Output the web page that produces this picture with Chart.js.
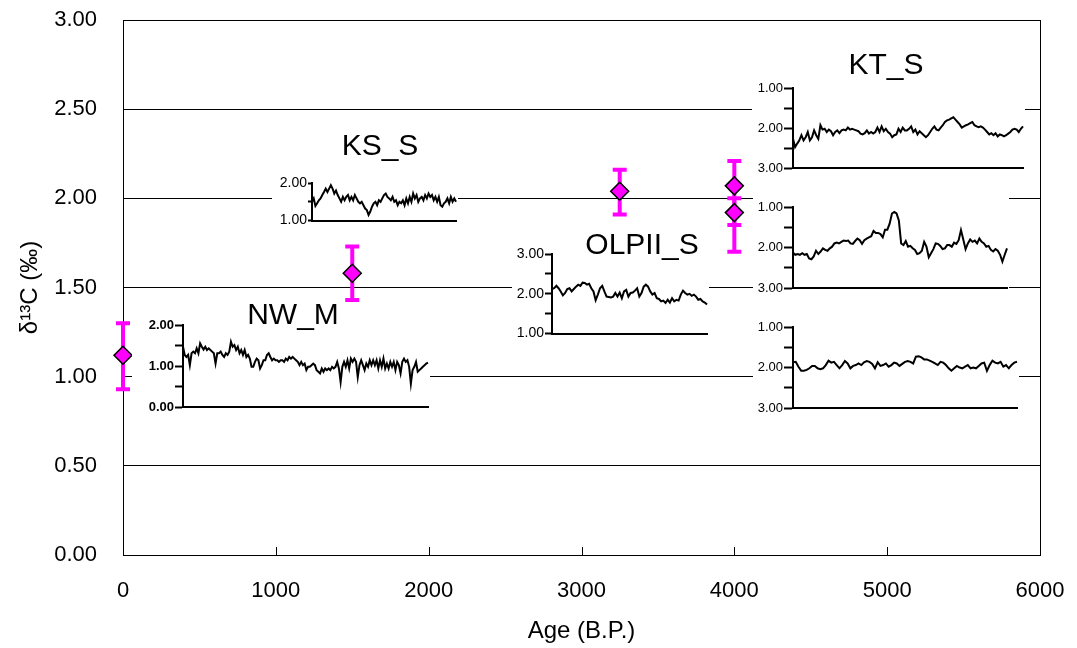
<!DOCTYPE html>
<html>
<head>
<meta charset="utf-8">
<script src="https://cdn.jsdelivr.net/npm/chart.js@4.4.0/dist/chart.umd.min.js"></script>
<style>
  body { margin: 0; background: #fff; }
  #wrap { position: relative; width: 1077px; height: 648px; }
  #wrap canvas { position: absolute; }
  #wrap canvas.inset { background: #fff; }
</style>
</head>
<body>
<div id="wrap">
  <canvas id="mainChart" width="1077" height="648" style="left:0;top:0"></canvas>
</div>
<script>
Chart.defaults.font.family = 'Arial, "Liberation Sans", sans-serif';
Chart.defaults.color = '#000';

// spot values (age, d13C) with error range
const ages = [0, 1500, 3250, 4000, 4000];
const d13C = [1.12, 1.58, 2.04, 2.07, 1.92];
const errLow = [0.93, 1.43, 1.91, 1.85, 1.70];
const errHigh = [1.30, 1.73, 2.16, 2.21, 2.00];

// inset records
const nwM = [1.47,1.27,1.22,1.27,1.02,1.31,1.35,1.31,1.43,1.31,1.55,1.47,1.40,1.47,1.39,1.43,1.39,1.35,1.31,1.06,
  1.31,1.31,1.35,1.27,1.22,1.31,1.27,1.35,1.59,1.47,1.51,1.39,1.47,1.31,1.39,1.27,1.39,1.22,1.27,1.18,
  0.98,0.98,1.10,1.18,1.14,0.94,1.02,1.14,1.14,1.27,1.31,1.22,1.14,1.18,1.14,1.14,1.10,1.14,1.14,1.10,
  1.18,1.14,1.22,1.18,1.22,1.18,1.14,1.10,1.02,1.10,1.02,1.06,0.90,0.98,0.98,1.02,1.06,1.02,0.90,0.86,
  0.82,0.94,0.86,0.94,0.90,0.94,0.90,0.98,0.94,0.98,1.10,0.94,0.61,0.98,1.10,0.98,1.14,0.94,1.18,1.10,
  1.18,1.10,0.73,1.02,1.14,1.02,0.90,1.06,0.98,1.14,1.02,1.14,1.02,1.14,0.94,1.14,0.98,1.18,0.94,1.06,
  0.94,1.10,0.98,1.10,0.90,1.10,1.02,0.82,1.10,1.18,1.10,1.14,0.98,0.57,0.90,0.98,1.10,0.86,0.90,0.94,
  0.98,1.02,1.06,1.08];
const ksS = [1.50,1.59,1.39,1.46,1.54,1.59,1.68,1.76,1.85,1.76,1.85,1.94,1.85,1.72,1.80,1.68,1.59,1.50,1.63,1.54,
  1.63,1.68,1.54,1.63,1.54,1.68,1.59,1.50,1.46,1.50,1.41,1.32,1.28,1.15,1.24,1.37,1.46,1.50,1.41,1.54,
  1.50,1.59,1.68,1.72,1.63,1.59,1.54,1.63,1.50,1.54,1.41,1.50,1.46,1.54,1.41,1.59,1.46,1.63,1.50,1.72,
  1.59,1.68,1.50,1.59,1.63,1.54,1.68,1.59,1.72,1.63,1.68,1.54,1.63,1.50,1.63,1.41,1.37,1.46,1.50,1.59,
  1.46,1.63,1.50,1.59,1.50];
const olpiiS = [2.12,2.14,2.20,2.14,2.06,1.96,2.02,2.12,2.14,2.06,2.12,2.18,2.23,2.20,2.28,2.27,2.23,2.25,2.14,2.06,
  1.84,1.98,2.14,2.20,2.06,1.93,1.92,1.91,1.93,2.02,1.93,2.03,1.89,2.06,2.10,1.93,2.02,2.03,2.08,2.14,
  1.93,2.02,2.18,2.23,2.18,2.06,1.98,2.02,1.89,1.87,1.81,1.83,1.77,1.85,1.78,1.89,1.81,1.85,1.83,1.98,
  2.08,2.02,1.98,2.00,1.95,1.98,1.93,1.85,1.87,1.81,1.78,1.73];
const ktS = [2.27,2.48,2.39,2.31,2.18,2.31,2.23,2.10,2.31,2.23,2.06,2.18,2.27,1.93,2.04,2.02,2.10,2.04,2.08,2.18,
  2.10,2.06,2.13,2.06,2.04,2.06,1.99,2.04,2.02,2.04,2.06,2.08,2.14,2.16,2.13,2.06,2.14,2.10,2.14,2.10,
  1.99,2.10,1.96,2.08,2.02,2.10,2.14,2.23,2.18,2.16,2.02,2.10,1.99,2.06,2.06,2.02,1.96,2.10,2.04,2.16,
  2.08,2.13,2.18,2.23,2.18,2.10,2.02,1.96,2.04,2.06,1.99,1.93,1.85,1.81,1.79,1.76,1.73,1.79,1.85,1.91,
  1.99,1.96,1.93,1.91,1.88,1.85,1.93,1.96,1.98,1.96,1.99,2.04,2.10,2.16,2.13,2.18,2.13,2.21,2.16,2.18,
  2.21,2.18,2.14,2.10,2.04,2.02,2.04,2.10,2.02,1.96];
const ktMid = [2.13,2.18,2.16,2.18,2.14,2.18,2.16,2.27,2.29,2.22,2.08,2.16,2.10,2.02,2.06,2.08,2.02,1.98,1.90,1.88,
  1.90,1.86,1.83,1.84,1.83,1.90,1.91,1.84,1.78,1.82,1.91,1.82,1.78,1.75,1.72,1.59,1.64,1.64,1.67,1.75,
  1.56,1.56,1.41,1.16,1.12,1.16,1.33,1.90,1.94,1.84,1.98,1.96,2.02,2.06,2.16,2.14,2.08,1.86,1.98,2.24,
  2.14,2.04,1.90,1.91,1.96,2.04,2.02,1.94,1.94,1.98,1.88,1.91,1.82,1.57,1.80,2.04,1.90,1.80,1.86,1.83,
  1.90,1.78,1.86,1.90,1.98,1.96,2.06,2.10,2.04,2.08,2.18,2.35,2.18,2.02];
const ktBot = [1.87,1.86,1.98,2.08,2.08,2.06,2.02,1.96,1.96,2.02,2.04,2.02,1.94,1.83,1.88,1.86,1.94,2.02,1.94,1.84,
  1.90,2.02,1.96,1.94,1.90,1.94,1.87,1.84,1.86,1.91,2.02,1.87,1.96,1.94,1.90,1.98,1.94,1.88,1.90,1.96,
  1.91,1.86,1.84,1.86,1.90,1.73,1.72,1.75,1.80,1.80,1.83,1.86,1.90,1.94,1.86,1.88,1.94,2.02,2.08,2.02,
  1.96,2.00,2.02,1.98,1.94,2.02,2.00,2.02,1.96,1.90,1.88,2.08,1.94,1.83,1.88,1.90,1.86,1.98,1.94,2.02,
  1.94,1.88,1.86];

// box around plot + small inward ticks on the age axis
const frame = {
  id: 'frame',
  beforeDatasetsDraw(chart) {
    const {ctx, chartArea: a, scales: {x}} = chart;
    ctx.save();
    ctx.strokeStyle = '#000';
    ctx.lineWidth = 1;
    ctx.strokeRect(a.left + 0.5, a.top + 0.5, a.right - a.left, a.bottom - a.top);
    ctx.beginPath();
    x.ticks.forEach(t => {
      const px = Math.round(x.getPixelForValue(t.value)) + 0.5;
      ctx.moveTo(px, a.bottom);
      ctx.lineTo(px, a.bottom - 8);
    });
    ctx.stroke();
    ctx.restore();
  }
};

const errorBars = {
  id: 'errorBars',
  beforeDatasetsDraw(chart) {
    const ctx = chart.ctx, y = chart.scales.y;
    const meta = chart.getDatasetMeta(0);
    ctx.save();
    ctx.strokeStyle = '#ff00ff';
    ctx.lineWidth = 4;
    meta.data.forEach((pt, i) => {
      const top = y.getPixelForValue(errHigh[i]);
      const bot = y.getPixelForValue(errLow[i]);
      ctx.beginPath();
      ctx.moveTo(pt.x, top); ctx.lineTo(pt.x, bot);
      ctx.moveTo(pt.x - 7, top); ctx.lineTo(pt.x + 7, top);
      ctx.moveTo(pt.x - 7, bot); ctx.lineTo(pt.x + 7, bot);
      ctx.stroke();
    });
    ctx.restore();
  }
};

const hidden = 'rgba(0,0,0,0)';

new Chart(document.getElementById('mainChart'), {
  type: 'scatter',
  data: {
    datasets: [{
      data: ages.map((a, i) => ({x: a, y: d13C[i]})),
      pointStyle: 'rectRot',
      pointRadius: 9,
      pointHoverRadius: 9,
      backgroundColor: '#ff00ff',
      borderColor: '#000',
      borderWidth: 1.5,
      clip: false
    }]
  },
  options: {
    responsive: false,
    animation: false,
    layout: {padding: {top: 20, right: 37, left: 0, bottom: 0}},
    plugins: {legend: {display: false}, tooltip: {enabled: false}},
    scales: {
      x: {
        type: 'linear', min: 0, max: 6000,
        ticks: {stepSize: 1000, padding: 2, font: {size: 22}, maxRotation: 0, callback: v => String(v)},
        // tick marks are hidden, their length only spaces the labels
        grid: {drawOnChartArea: false, drawTicks: true, tickLength: 21, tickColor: hidden},
        border: {color: '#000', width: 1},
        title: {display: true, text: 'Age (B.P.)', font: {size: 24}, padding: {top: 0, bottom: 2}},
        afterFit(s) { s.height = 93; }
      },
      y: {
        min: 0, max: 3,
        ticks: {stepSize: 0.5, padding: 2, font: {size: 22}, callback: v => v.toFixed(2)},
        grid: {color: '#000', lineWidth: 1, drawTicks: true, tickLength: 24, tickColor: hidden},
        border: {color: '#000', width: 1},
        title: {display: true, text: 'δ¹³C (‰)', font: {size: 24}, padding: {top: 16, bottom: 0}},
        afterFit(s) { s.width = 123; }
      }
    }
  },
  plugins: [frame, errorBars]
});

// insets: box = [left, top, width, height] in page px
const insets = [
  {title: 'NW_M', values: nwM, min: 0, max: 2, reverse: false, bold: true, size: 13, tick: 8,
   box: [132, 303, 298, 113], axisW: 51, pad: {top: 22, right: 2, bottom: 9}, titleAt: [161, 13]},
  {title: 'KS_S', values: ksS, min: 1, max: 2, reverse: false, bold: false, size: 14, tick: 4,
   box: [272, 128, 186, 102], axisW: 40, pad: {top: 55, right: 2, bottom: 9}, titleAt: [108, 19]},
  {title: 'OLPII_S', values: olpiiS, min: 1, max: 3, reverse: false, bold: false, size: 14, tick: 7,
   box: [512, 226, 197, 117], axisW: 40, pad: {top: 28, right: 2, bottom: 9}, titleAt: [130, 20]},
  {title: 'KT_S', values: ktS, min: 1, max: 3, reverse: true, bold: false, size: 13, tick: 9,
   box: [752, 44, 273, 133], axisW: 41, pad: {top: 44, right: 2, bottom: 9}, titleAt: [134, 22]},
  {title: '', values: ktMid, min: 1, max: 3, reverse: true, bold: false, size: 13, tick: 9,
   box: [753, 196, 256, 101], axisW: 40, pad: {top: 11, right: 2, bottom: 9}, titleAt: [0, 0]},
  {title: '', values: ktBot, min: 1, max: 3, reverse: true, bold: false, size: 13, tick: 9,
   box: [753, 300, 266, 117], axisW: 40, pad: {top: 27, right: 2, bottom: 9}, titleAt: [0, 0]}
];

const wrap = document.getElementById('wrap');

insets.forEach(c => {
  const cv = document.createElement('canvas');
  cv.width = c.box[2];
  cv.height = c.box[3];
  cv.className = 'inset';
  cv.style.left = c.box[0] + 'px';
  cv.style.top = c.box[1] + 'px';
  wrap.appendChild(cv);

  const insetTitle = {
    id: 'insetTitle',
    afterDraw(chart) {
      if (!c.title) return;
      const ctx = chart.ctx;
      ctx.save();
      ctx.font = '30px Arial, "Liberation Sans", sans-serif';
      ctx.fillStyle = '#000';
      ctx.textAlign = 'center';
      ctx.textBaseline = 'middle';
      ctx.fillText(c.title, c.titleAt[0], c.titleAt[1]);
      ctx.restore();
    }
  };

  new Chart(cv, {
    type: 'line',
    data: {
      labels: c.values.map((v, i) => i),
      datasets: [{data: c.values, borderColor: '#000', borderWidth: 2, pointRadius: 0, tension: 0}]
    },
    options: {
      responsive: false,
      animation: false,
      layout: {padding: {left: 0, top: c.pad.top, right: c.pad.right, bottom: c.pad.bottom}},
      plugins: {legend: {display: false}, tooltip: {enabled: false}},
      scales: {
        x: {
          ticks: {display: false},
          grid: {display: false, drawTicks: false},
          border: {color: '#000', width: 2},
          afterFit(s) { s.height = 0; }
        },
        y: {
          min: c.min, max: c.max, reverse: c.reverse,
          ticks: {
            stepSize: 0.5, padding: 1, autoSkip: false,
            font: {size: c.size, weight: c.bold ? 'bold' : 'normal'},
            callback: v => Number.isInteger(v) ? v.toFixed(2) : ''
          },
          grid: {drawOnChartArea: false, tickLength: c.tick, tickWidth: 2, tickColor: '#000'},
          border: {color: '#000', width: 2},
          afterFit(s) { s.width = c.axisW; }
        }
      }
    },
    plugins: [insetTitle]
  });
});
</script>
</body>
</html>
